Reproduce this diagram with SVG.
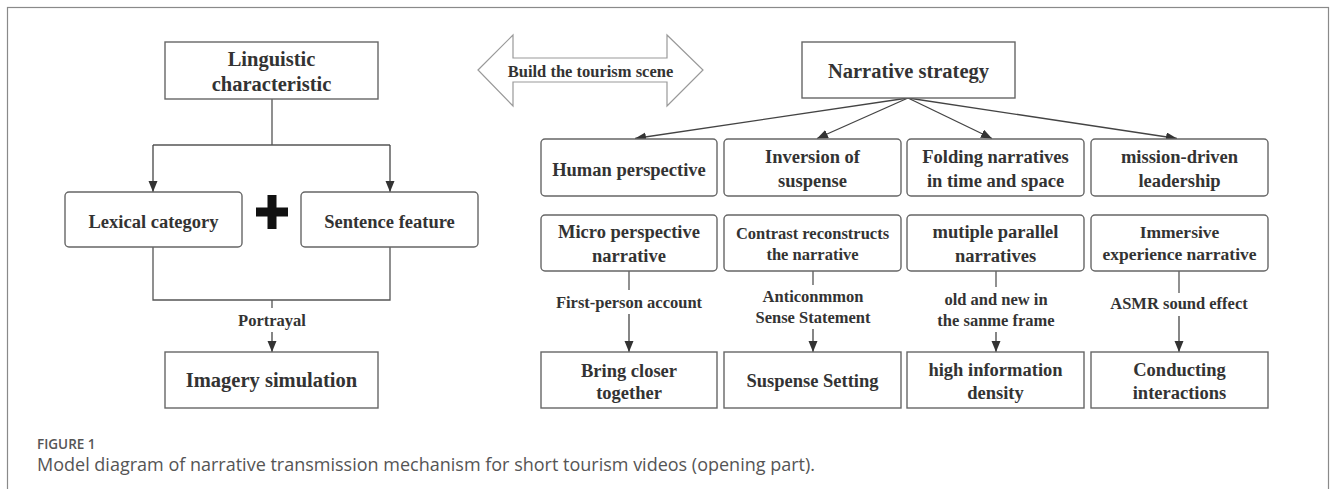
<svg xmlns="http://www.w3.org/2000/svg" width="1331" height="489" viewBox="0 0 1331 489">
<defs>
<marker id="ah" markerUnits="userSpaceOnUse" markerWidth="12" markerHeight="10" refX="11" refY="4.5" orient="auto">
<path d="M0,0 L11,4.5 L0,9 z" fill="#333"/>
</marker>
<style>
.box{fill:#fff;stroke:#666;stroke-width:1.4}
.t{font-family:"Liberation Serif","Times New Roman",serif;font-weight:bold;fill:#333;text-anchor:middle}
.big{font-size:20.5px}
.mid{font-size:18.5px}
.lab{font-size:16.5px}
.ln{fill:none;stroke:#555;stroke-width:1.3}
.arr{fill:none;stroke:#444;stroke-width:1.3;marker-end:url(#ah)}
.cap{font-family:"Open Sans","Liberation Sans",sans-serif;fill:#555}
</style>
</defs>
<rect width="1331" height="489" fill="#fff"/>
<rect x="7.5" y="7.5" width="1321" height="520" fill="none" stroke="#8a8a8a" stroke-width="1.2"/>

<g id="connectors">
<path class="ln" d="M272,99 V145 M153,145 H390"/>
<path class="arr" d="M153,145 V192"/>
<path class="arr" d="M390,145 V192"/>
<path class="ln" d="M153,247 V300 H390 V247 M272,300 V308"/>
<path class="arr" d="M272,332 V352"/>
<path class="arr" d="M908,98 L635,138.5"/>
<path class="arr" d="M908,98 L817,138.5"/>
<path class="arr" d="M908,98 L992,138.5"/>
<path class="arr" d="M908,98 L1177,138.5"/>
<path class="ln" d="M629,271 V290"/>
<path class="arr" d="M629,314 V352"/>
<path class="ln" d="M813,271 V285"/>
<path class="arr" d="M813,329 V352"/>
<path class="ln" d="M996,271 V287"/>
<path class="arr" d="M996,332 V352"/>
<path class="ln" d="M1179,271 V293"/>
<path class="arr" d="M1179,316 V352"/>
<text class="t lab" x="272" y="326">Portrayal</text>
<text class="t lab" x="629" y="308">First-person account</text>
<text class="t lab" x="813" y="302">Anticonmmon</text>
<text class="t lab" x="813" y="323">Sense Statement</text>
<text class="t lab" x="996" y="305">old and new in</text>
<text class="t lab" x="996" y="326">the sanme frame</text>
<text class="t lab" x="1179" y="309">ASMR sound effect</text>
</g>

<g id="linguistic">
<rect class="box" x="165" y="42" width="213" height="57"/>
<text class="t big" x="271.5" y="66">Linguistic</text>
<text class="t big" x="271.5" y="91">characteristic</text>
</g>
<g id="lexical">
<rect class="box" x="65" y="192" width="177" height="55" rx="4"/>
<text class="t mid" x="153.5" y="228">Lexical category</text>
</g>
<g id="plus">
<path d="M267.5,195 h9 v12.5 h11.5 v9 h-11.5 v12.5 h-9 v-12.5 h-11.5 v-9 h11.5 z" fill="#111"/>
</g>
<g id="sentence">
<rect class="box" x="301" y="192" width="177" height="55" rx="4"/>
<text class="t mid" x="389.5" y="228">Sentence feature</text>
</g>
<g id="imagery">
<rect class="box" x="165" y="352" width="213" height="56"/>
<text class="t big" x="271.5" y="387">Imagery simulation</text>
</g>

<g id="build-scene">
<polygon points="478,70 513,35 513,58 667,58 667,35 703,70 667,106 667,82 513,82 513,106" fill="#fff" stroke="#999" stroke-width="1.2"/>
<text class="t lab" x="590.5" y="77">Build the tourism scene</text>
</g>

<g id="narrative">
<rect class="box" x="802" y="42" width="213" height="56"/>
<text class="t big" x="908.5" y="78">Narrative strategy</text>
</g>

<g id="human">
<rect class="box" x="541" y="139" width="176" height="57" rx="4"/>
<text class="t mid" x="629" y="176">Human perspective</text>
</g>
<g id="inversion">
<rect class="box" x="724" y="139" width="177" height="57" rx="4"/>
<text class="t mid" x="812.5" y="163">Inversion of</text>
<text class="t mid" x="812.5" y="187">suspense</text>
</g>
<g id="folding">
<rect class="box" x="907" y="139" width="177" height="57" rx="4"/>
<text class="t mid" x="995.5" y="163">Folding narratives</text>
<text class="t mid" x="995.5" y="187">in time and space</text>
</g>
<g id="mission">
<rect class="box" x="1091" y="139" width="177" height="57" rx="4"/>
<text class="t mid" x="1179.5" y="163">mission-driven</text>
<text class="t mid" x="1179.5" y="187">leadership</text>
</g>

<g id="micro">
<rect class="box" x="541" y="215" width="176" height="56" rx="4"/>
<text class="t mid" x="629" y="238">Micro perspective</text>
<text class="t mid" x="629" y="262">narrative</text>
</g>
<g id="contrast">
<rect class="box" x="724" y="215" width="177" height="56" rx="4"/>
<text class="t" style="font-size:16.5px" x="812.5" y="239">Contrast reconstructs</text>
<text class="t" style="font-size:16.5px" x="812.5" y="260">the narrative</text>
</g>
<g id="parallel">
<rect class="box" x="907" y="215" width="177" height="56" rx="4"/>
<text class="t mid" x="995.5" y="238">mutiple parallel</text>
<text class="t mid" x="995.5" y="262">narratives</text>
</g>
<g id="immersive">
<rect class="box" x="1091" y="215" width="177" height="56" rx="4"/>
<text class="t" style="font-size:17.5px" x="1179.5" y="238">Immersive</text>
<text class="t" style="font-size:17.5px" x="1179.5" y="260">experience narrative</text>
</g>

<g id="bring">
<rect class="box" x="541" y="352" width="176" height="56"/>
<text class="t mid" x="629" y="377">Bring closer</text>
<text class="t mid" x="629" y="399">together</text>
</g>
<g id="suspense">
<rect class="box" x="724" y="352" width="177" height="56"/>
<text class="t mid" x="812.5" y="387">Suspense Setting</text>
</g>
<g id="density">
<rect class="box" x="907" y="352" width="177" height="56"/>
<text class="t mid" x="995.5" y="376">high information</text>
<text class="t mid" x="995.5" y="399">density</text>
</g>
<g id="conducting">
<rect class="box" x="1091" y="352" width="177" height="56"/>
<text class="t mid" x="1179.5" y="376">Conducting</text>
<text class="t mid" x="1179.5" y="399">interactions</text>
</g>

<g id="caption">
<text class="cap" x="37" y="449" style="font-size:13.5px;font-weight:600">FIGURE 1</text>
<text class="cap" x="37" y="471" style="font-size:18px">Model diagram of narrative transmission mechanism for short tourism videos (opening part).</text>
</g>
</svg>
